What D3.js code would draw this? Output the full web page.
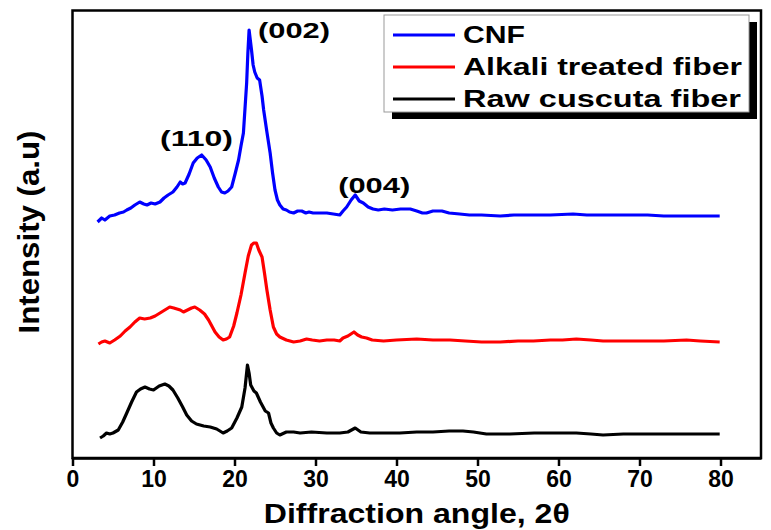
<!DOCTYPE html>
<html><head><meta charset="utf-8">
<script src="https://cdn.jsdelivr.net/npm/d3@7/dist/d3.min.js"></script>
<style>body{margin:0;background:#fff}svg{display:block}</style>
</head><body><svg id="c" width="771" height="530"></svg>
<script>
const seriesNames = ["CNF", "Alkali treated fiber", "Raw cuscuta fiber"];
const seriesColors = ["#0000ff", "#ff0000", "#000000"];
const xTicks = [0,10,20,30,40,50,60,70,80];
const cnf = [[3.1,236],[3.6,240],[4.0,238],[4.6,242],[5.2,243],[5.8,245],[6.3,246],[6.7,248],[7.2,250],[7.7,253],[8.3,256],[8.8,254],[9.2,253],[9.7,255],[10.2,254],[10.8,256],[11.3,260],[11.8,263],[12.4,266],[12.9,271],[13.3,276],[13.6,274],[13.9,275],[14.4,284],[14.9,295],[15.4,300],[15.95,303],[16.5,298],[17.0,291],[17.5,280],[18.0,271],[18.4,266],[18.8,265],[19.2,267],[19.65,271],[20.1,285],[20.5,298],[20.8,312],[21.1,325],[21.3,350],[21.5,375],[21.65,405],[21.8,428],[21.95,418],[22.1,408],[22.3,393],[22.5,386],[22.8,380],[23.1,378],[23.4,362],[23.6,348],[24.0,326],[24.4,305],[24.7,285],[25.0,268],[25.3,258],[25.6,253],[26.0,249],[26.4,248],[26.8,246],[27.3,245],[27.8,247],[28.3,247],[28.8,245],[29.2,246],[29.7,245],[30.5,245],[31.4,245],[32.2,244],[33.0,243],[33.4,247],[33.85,251],[34.4,258],[34.9,263],[35.4,257],[35.9,255],[36.5,251],[37.1,249],[37.75,248],[38.5,249],[39.5,248],[40.5,249],[41.7,249],[42.5,247],[43.2,245],[43.7,245],[44.5,247],[45.6,247],[46.5,245],[47.8,244],[49,243],[50.5,243],[52.8,242],[54.5,243],[56.9,243],[59,243],[61.8,244],[63.5,243],[65,243],[67,243],[69.2,243],[71,243],[73,242],[75,242],[77,242],[79.9,242]];
const alkali = [[3.2,114],[3.6,116],[4.0,117],[4.6,115],[5.2,118],[5.9,122],[6.5,127],[7.1,131],[7.7,136],[8.3,140],[8.9,139],[9.6,140],[10.2,142],[10.8,145],[11.4,148],[12.0,151],[12.5,150],[12.9,149],[13.3,148],[13.7,146],[14.2,148],[14.7,150],[15.1,151],[15.7,148],[16.3,144],[16.8,138],[17.2,132],[17.6,126],[18.1,121],[18.6,118],[19.0,119],[19.4,121],[19.9,132],[20.3,145],[20.8,163],[21.3,185],[21.7,202],[22.1,213],[22.4,215],[22.7,215],[23.0,208],[23.4,201],[23.7,185],[24.0,168],[24.4,148],[24.8,131],[25.2,124],[25.6,121],[26.4,118],[27.3,116],[28.1,117],[28.9,119],[29.6,118],[30.5,117],[31.4,118],[32.3,118],[33.0,117],[33.4,120],[34.0,122],[34.75,126],[35.2,123],[35.7,121],[36.3,120],[37.0,118],[38.4,117],[40,118],[42.5,119],[44.5,118],[46.6,118],[48.5,117],[50.5,116],[52.8,116],[55,117],[56.9,117],[59,118],[60.5,118],[62.2,119],[64,118],[65.5,117],[67.2,117],[69,117],[71,117],[73,117],[75.8,118],[77.5,117],[79.9,116]];
const raw = [[3.4,20],[3.8,22],[4.2,25],[4.6,24],[5.0,25],[5.65,28],[6.2,36],[6.7,45],[7.3,56],[7.9,66],[8.4,69],[8.95,71],[9.5,69],[10.0,68],[10.7,72],[11.4,74],[11.9,72],[12.4,68],[13.0,60],[13.6,51],[14.1,43],[14.7,37],[15.3,34],[16.2,32],[17.0,31],[17.8,29],[18.6,25],[19.1,27],[19.65,30],[20.3,40],[20.9,51],[21.3,70],[21.6,93],[21.8,85],[22.0,73],[22.4,67],[22.7,65],[23.2,56],[23.8,47],[24.2,45],[24.5,35],[24.8,30],[25.2,25],[25.6,23],[26.4,26],[27.3,26],[28.1,25],[29.5,26],[31.4,25],[33.0,25],[34.0,26],[34.9,30],[35.6,26],[36.7,25],[38.5,25],[40.4,25],[42.5,26],[44.5,26],[46.5,27],[48.2,27],[49.5,26],[51.1,24],[54,24],[57,25],[60,25],[62.2,25],[64,24],[65.5,23],[68,24],[71,24],[74,24],[77,24],[79.9,24]];
const peakLabels = ["(110)", "(002)", "(004)"];
const peakX = [10.8, 22.9, 32.8];
const peakY = [312, 420, 265];

const svg = d3.select("#c");
const L = 72.5, R = 761, T = 10.5, B = 458;
const x = d3.scaleLinear().domain([0, 85]).range([L, R]);
const y = d3.scaleLinear().domain([0, 447.5]).range([B, T]);
const font = "'Liberation Sans', Arial, sans-serif";

// frame
svg.append("rect").attr("x", L).attr("y", T).attr("width", R - L).attr("height", B - T)
  .attr("fill", "none").attr("stroke", "#000").attr("stroke-width", 2.5);

// x axis
const xAxis = d3.axisBottom(x).tickValues(xTicks).tickSize(8).tickSizeOuter(0).tickPadding(5);
const gx = svg.append("g").attr("transform", `translate(0,${B})`).call(xAxis);
gx.select(".domain").attr("stroke-width", 2.5);
gx.selectAll(".tick line").attr("stroke-width", 2.5);
gx.selectAll(".tick text").attr("font-family", font).attr("font-weight", "bold")
  .attr("font-size", 23).attr("fill", "#000");

// lines
const line = d3.line().x(d => x(d[0])).y(d => y(d[1]));
[cnf, alkali, raw].forEach((s, i) => {
  svg.append("path").datum(s).attr("d", line).attr("fill", "none")
    .attr("stroke", seriesColors[i]).attr("stroke-width", 3.2).attr("stroke-linejoin", "round");
});

// peak labels
const peakW = [73, 72, 72];
peakLabels.forEach((t, i) => {
  svg.append("text").attr("x", x(peakX[i])).attr("y", y(peakY[i]))
    .attr("font-family", font).attr("font-weight", "bold").attr("font-size", 22)
    .attr("textLength", peakW[i]).attr("lengthAdjust", "spacingAndGlyphs").text(t);
});

// legend
svg.append("rect").attr("x", 392).attr("y", 22).attr("width", 365).attr("height", 97).attr("fill", "#000");
svg.append("rect").attr("x", 384).attr("y", 15).attr("width", 365).attr("height", 97)
  .attr("fill", "#fff").attr("stroke", "#999").attr("stroke-width", 1);
const legW = [62, 279, 278];
seriesNames.forEach((n, i) => {
  const ly = 35 + i * 32;
  svg.append("line").attr("x1", 393).attr("x2", 455).attr("y1", ly).attr("y2", ly)
    .attr("stroke", seriesColors[i]).attr("stroke-width", 3);
  svg.append("text").attr("x", 463).attr("y", ly + 8).attr("font-family", font)
    .attr("font-weight", "bold").attr("font-size", 23)
    .attr("textLength", legW[i]).attr("lengthAdjust", "spacingAndGlyphs").text(n);
});

// axis titles
svg.append("text").attr("x", (L + R) / 2).attr("y", 523).attr("text-anchor", "middle")
  .attr("font-family", font).attr("font-weight", "bold").attr("font-size", 27)
  .attr("textLength", 306).attr("lengthAdjust", "spacingAndGlyphs").text("Diffraction angle, 2θ");
svg.append("text").attr("transform", "translate(39,232) rotate(-90)").attr("text-anchor", "middle")
  .attr("font-family", font).attr("font-weight", "bold").attr("font-size", 29)
  .attr("textLength", 203).attr("lengthAdjust", "spacingAndGlyphs").text("Intensity (a.u)");
</script></body></html>
